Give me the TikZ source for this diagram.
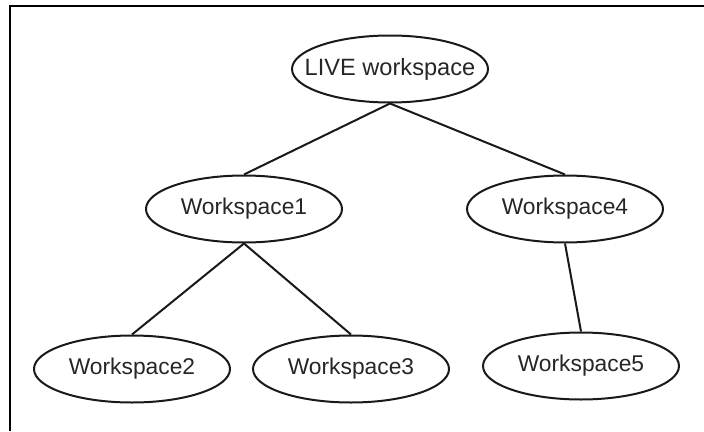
\documentclass[tikz,border=0pt]{standalone}
\usepackage{fontspec}
\setmainfont{Liberation Sans}
\usetikzlibrary{shapes.geometric}
\newcommand{\wslbl}[1]{\makebox[0pt][c]{#1}}
\begin{document}
\begin{tikzpicture}[x=1pt,y=-1pt,
  ws/.style={draw=black!90, line width=2pt, ellipse, minimum width=196pt, minimum height=67pt, inner sep=0pt, font=\fontsize{22.8}{27}\selectfont, text=black!85},
  link/.style={draw=black!90, line width=2pt},
  frameline/.style={draw=black, line width=2.5pt}]
\useasboundingbox (0,0) rectangle (704,431);
\coordinate (tr) at (704,6);
\coordinate (tl) at (10,6);
\coordinate (bl) at (10,431);
\draw[frameline] (tr) -- (tl) -- (bl);
\node[ws, font=\fontsize{23.6}{28}\selectfont] (live) at (390,69) {\wslbl{LIVE workspace}};
\node[ws] (w1) at (244,209) {\wslbl{Workspace1}};
\node[ws] (w4) at (565,209) {\wslbl{Workspace4}};
\node[ws] (w2) at (132,369) {\wslbl{Workspace2}};
\node[ws] (w3) at (351,369) {\wslbl{Workspace3}};
\node[ws] (w5) at (581,366) {\wslbl{Workspace5}};
\draw[link] (live.south) -- (w1.north);
\draw[link] (live.south) -- (w4.north);
\draw[link] (w1.south) -- (w2.north);
\draw[link] (w1.south) -- (w3.north);
\draw[link] (w4.south) -- (w5.north);
\end{tikzpicture}
\end{document}
